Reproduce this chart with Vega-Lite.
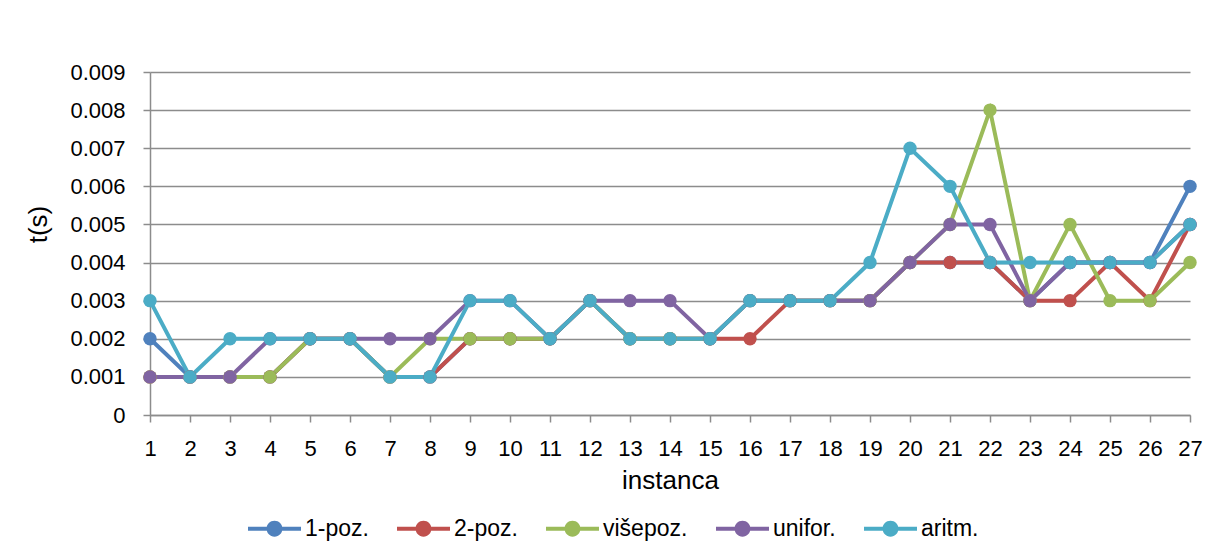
{
  "$schema": "https://vega.github.io/schema/vega-lite/v6.json",
  "width": 1040,
  "height": 343,
  "autosize": {"type": "none"},
  "padding": {"left": 150, "top": 72, "right": 28, "bottom": 133},
  "background": "white",
  "datasets": {
    "rows": [
      {"instanca": 1, "serija": "1-poz.", "t": 0.002},
      {"instanca": 2, "serija": "1-poz.", "t": 0.001},
      {"instanca": 3, "serija": "1-poz.", "t": 0.001},
      {"instanca": 4, "serija": "1-poz.", "t": 0.001},
      {"instanca": 5, "serija": "1-poz.", "t": 0.002},
      {"instanca": 6, "serija": "1-poz.", "t": 0.002},
      {"instanca": 7, "serija": "1-poz.", "t": 0.001},
      {"instanca": 8, "serija": "1-poz.", "t": 0.001},
      {"instanca": 9, "serija": "1-poz.", "t": 0.002},
      {"instanca": 10, "serija": "1-poz.", "t": 0.002},
      {"instanca": 11, "serija": "1-poz.", "t": 0.002},
      {"instanca": 12, "serija": "1-poz.", "t": 0.003},
      {"instanca": 13, "serija": "1-poz.", "t": 0.002},
      {"instanca": 14, "serija": "1-poz.", "t": 0.002},
      {"instanca": 15, "serija": "1-poz.", "t": 0.002},
      {"instanca": 16, "serija": "1-poz.", "t": 0.003},
      {"instanca": 17, "serija": "1-poz.", "t": 0.003},
      {"instanca": 18, "serija": "1-poz.", "t": 0.003},
      {"instanca": 19, "serija": "1-poz.", "t": 0.003},
      {"instanca": 20, "serija": "1-poz.", "t": 0.004},
      {"instanca": 21, "serija": "1-poz.", "t": 0.004},
      {"instanca": 22, "serija": "1-poz.", "t": 0.004},
      {"instanca": 23, "serija": "1-poz.", "t": 0.003},
      {"instanca": 24, "serija": "1-poz.", "t": 0.004},
      {"instanca": 25, "serija": "1-poz.", "t": 0.004},
      {"instanca": 26, "serija": "1-poz.", "t": 0.004},
      {"instanca": 27, "serija": "1-poz.", "t": 0.006},

      {"instanca": 1, "serija": "2-poz.", "t": 0.001},
      {"instanca": 2, "serija": "2-poz.", "t": 0.001},
      {"instanca": 3, "serija": "2-poz.", "t": 0.001},
      {"instanca": 4, "serija": "2-poz.", "t": 0.001},
      {"instanca": 5, "serija": "2-poz.", "t": 0.002},
      {"instanca": 6, "serija": "2-poz.", "t": 0.002},
      {"instanca": 7, "serija": "2-poz.", "t": 0.001},
      {"instanca": 8, "serija": "2-poz.", "t": 0.001},
      {"instanca": 9, "serija": "2-poz.", "t": 0.002},
      {"instanca": 10, "serija": "2-poz.", "t": 0.002},
      {"instanca": 11, "serija": "2-poz.", "t": 0.002},
      {"instanca": 12, "serija": "2-poz.", "t": 0.003},
      {"instanca": 13, "serija": "2-poz.", "t": 0.002},
      {"instanca": 14, "serija": "2-poz.", "t": 0.002},
      {"instanca": 15, "serija": "2-poz.", "t": 0.002},
      {"instanca": 16, "serija": "2-poz.", "t": 0.002},
      {"instanca": 17, "serija": "2-poz.", "t": 0.003},
      {"instanca": 18, "serija": "2-poz.", "t": 0.003},
      {"instanca": 19, "serija": "2-poz.", "t": 0.003},
      {"instanca": 20, "serija": "2-poz.", "t": 0.004},
      {"instanca": 21, "serija": "2-poz.", "t": 0.004},
      {"instanca": 22, "serija": "2-poz.", "t": 0.004},
      {"instanca": 23, "serija": "2-poz.", "t": 0.003},
      {"instanca": 24, "serija": "2-poz.", "t": 0.003},
      {"instanca": 25, "serija": "2-poz.", "t": 0.004},
      {"instanca": 26, "serija": "2-poz.", "t": 0.003},
      {"instanca": 27, "serija": "2-poz.", "t": 0.005},

      {"instanca": 1, "serija": "višepoz.", "t": 0.001},
      {"instanca": 2, "serija": "višepoz.", "t": 0.001},
      {"instanca": 3, "serija": "višepoz.", "t": 0.001},
      {"instanca": 4, "serija": "višepoz.", "t": 0.001},
      {"instanca": 5, "serija": "višepoz.", "t": 0.002},
      {"instanca": 6, "serija": "višepoz.", "t": 0.002},
      {"instanca": 7, "serija": "višepoz.", "t": 0.001},
      {"instanca": 8, "serija": "višepoz.", "t": 0.002},
      {"instanca": 9, "serija": "višepoz.", "t": 0.002},
      {"instanca": 10, "serija": "višepoz.", "t": 0.002},
      {"instanca": 11, "serija": "višepoz.", "t": 0.002},
      {"instanca": 12, "serija": "višepoz.", "t": 0.003},
      {"instanca": 13, "serija": "višepoz.", "t": 0.002},
      {"instanca": 14, "serija": "višepoz.", "t": 0.002},
      {"instanca": 15, "serija": "višepoz.", "t": 0.002},
      {"instanca": 16, "serija": "višepoz.", "t": 0.003},
      {"instanca": 17, "serija": "višepoz.", "t": 0.003},
      {"instanca": 18, "serija": "višepoz.", "t": 0.003},
      {"instanca": 19, "serija": "višepoz.", "t": 0.003},
      {"instanca": 20, "serija": "višepoz.", "t": 0.004},
      {"instanca": 21, "serija": "višepoz.", "t": 0.005},
      {"instanca": 22, "serija": "višepoz.", "t": 0.008},
      {"instanca": 23, "serija": "višepoz.", "t": 0.003},
      {"instanca": 24, "serija": "višepoz.", "t": 0.005},
      {"instanca": 25, "serija": "višepoz.", "t": 0.003},
      {"instanca": 26, "serija": "višepoz.", "t": 0.003},
      {"instanca": 27, "serija": "višepoz.", "t": 0.004},

      {"instanca": 1, "serija": "unifor.", "t": 0.001},
      {"instanca": 2, "serija": "unifor.", "t": 0.001},
      {"instanca": 3, "serija": "unifor.", "t": 0.001},
      {"instanca": 4, "serija": "unifor.", "t": 0.002},
      {"instanca": 5, "serija": "unifor.", "t": 0.002},
      {"instanca": 6, "serija": "unifor.", "t": 0.002},
      {"instanca": 7, "serija": "unifor.", "t": 0.002},
      {"instanca": 8, "serija": "unifor.", "t": 0.002},
      {"instanca": 9, "serija": "unifor.", "t": 0.003},
      {"instanca": 10, "serija": "unifor.", "t": 0.003},
      {"instanca": 11, "serija": "unifor.", "t": 0.002},
      {"instanca": 12, "serija": "unifor.", "t": 0.003},
      {"instanca": 13, "serija": "unifor.", "t": 0.003},
      {"instanca": 14, "serija": "unifor.", "t": 0.003},
      {"instanca": 15, "serija": "unifor.", "t": 0.002},
      {"instanca": 16, "serija": "unifor.", "t": 0.003},
      {"instanca": 17, "serija": "unifor.", "t": 0.003},
      {"instanca": 18, "serija": "unifor.", "t": 0.003},
      {"instanca": 19, "serija": "unifor.", "t": 0.003},
      {"instanca": 20, "serija": "unifor.", "t": 0.004},
      {"instanca": 21, "serija": "unifor.", "t": 0.005},
      {"instanca": 22, "serija": "unifor.", "t": 0.005},
      {"instanca": 23, "serija": "unifor.", "t": 0.003},
      {"instanca": 24, "serija": "unifor.", "t": 0.004},
      {"instanca": 25, "serija": "unifor.", "t": 0.004},
      {"instanca": 26, "serija": "unifor.", "t": 0.004},
      {"instanca": 27, "serija": "unifor.", "t": 0.005},

      {"instanca": 1, "serija": "aritm.", "t": 0.003},
      {"instanca": 2, "serija": "aritm.", "t": 0.001},
      {"instanca": 3, "serija": "aritm.", "t": 0.002},
      {"instanca": 4, "serija": "aritm.", "t": 0.002},
      {"instanca": 5, "serija": "aritm.", "t": 0.002},
      {"instanca": 6, "serija": "aritm.", "t": 0.002},
      {"instanca": 7, "serija": "aritm.", "t": 0.001},
      {"instanca": 8, "serija": "aritm.", "t": 0.001},
      {"instanca": 9, "serija": "aritm.", "t": 0.003},
      {"instanca": 10, "serija": "aritm.", "t": 0.003},
      {"instanca": 11, "serija": "aritm.", "t": 0.002},
      {"instanca": 12, "serija": "aritm.", "t": 0.003},
      {"instanca": 13, "serija": "aritm.", "t": 0.002},
      {"instanca": 14, "serija": "aritm.", "t": 0.002},
      {"instanca": 15, "serija": "aritm.", "t": 0.002},
      {"instanca": 16, "serija": "aritm.", "t": 0.003},
      {"instanca": 17, "serija": "aritm.", "t": 0.003},
      {"instanca": 18, "serija": "aritm.", "t": 0.003},
      {"instanca": 19, "serija": "aritm.", "t": 0.004},
      {"instanca": 20, "serija": "aritm.", "t": 0.007},
      {"instanca": 21, "serija": "aritm.", "t": 0.006},
      {"instanca": 22, "serija": "aritm.", "t": 0.004},
      {"instanca": 23, "serija": "aritm.", "t": 0.004},
      {"instanca": 24, "serija": "aritm.", "t": 0.004},
      {"instanca": 25, "serija": "aritm.", "t": 0.004},
      {"instanca": 26, "serija": "aritm.", "t": 0.004},
      {"instanca": 27, "serija": "aritm.", "t": 0.005}
    ]
  },
  "data": {"name": "rows"},
  "mark": {"type": "line", "strokeWidth": 4, "point": {"filled": true, "size": 180, "opacity": 1}},
  "encoding": {
    "x": {
      "field": "instanca",
      "type": "quantitative",
      "scale": {"domain": [1, 27], "nice": false, "zero": false},
      "axis": {
        "title": "instanca",
        "values": [1,2,3,4,5,6,7,8,9,10,11,12,13,14,15,16,17,18,19,20,21,22,23,24,25,26,27],
        "grid": false,
        "format": "d",
        "labelFontSize": 22,
        "labelPadding": 16,
        "tickSize": 7,
        "titleFontSize": 26,
        "titlePadding": 8,
        "labelFlush": false
      }
    },
    "y": {
      "field": "t",
      "type": "quantitative",
      "scale": {"domain": [0, 0.009], "nice": false},
      "axis": {
        "title": "t(s)",
        "values": [0, 0.001, 0.002, 0.003, 0.004, 0.005, 0.006, 0.007, 0.008, 0.009],
        "format": ".3~f",
        "labelFontSize": 22,
        "labelPadding": 18,
        "tickSize": 7,
        "titleFontSize": 26,
        "titlePadding": 18,
        "titleY": 152
      }
    },
    "color": {
      "field": "serija",
      "type": "nominal",
      "scale": {
        "domain": ["1-poz.", "2-poz.", "višepoz.", "unifor.", "aritm."],
        "range": ["#4F81BD", "#C0504D", "#9BBB59", "#8064A2", "#4BACC6"]
      },
      "legend": {
        "title": null,
        "orient": "none",
        "legendX": 98,
        "legendY": 430,
        "direction": "horizontal",
        "labelFontSize": 23,
        "labelOffset": 4,
        "columnPadding": 28,
        "symbolType": "M-1,-0.075 L1,-0.075 L1,0.075 L-1,0.075 Z M0.3,0 A0.3,0.3 0 1,1 -0.3,0 A0.3,0.3 0 1,1 0.3,0 Z",
        "symbolSize": 2809,
        "symbolStrokeWidth": 0,
        "encode": {
          "symbols": {
            "update": {
              "fill": {"scale": "color", "field": "value"},
              "fillOpacity": {"value": 1},
              "strokeWidth": {"value": 0}
            }
          }
        }
      }
    },
    "order": {"field": "instanca", "type": "quantitative"}
  },
  "config": {
    "font": "Liberation Sans",
    "view": {"stroke": null},
    "axis": {
      "domainColor": "#8C8C8C",
      "domainWidth": 1.5,
      "tickColor": "#8C8C8C",
      "tickWidth": 1.5,
      "gridColor": "#8C8C8C",
      "gridWidth": 1.5,
      "gridOpacity": 1,
      "labelColor": "#000000",
      "titleColor": "#000000",
      "titleFontWeight": "normal",
      "labelFont": "Liberation Sans",
      "titleFont": "Liberation Sans"
    },
    "legend": {"labelColor": "#000000", "labelFont": "Liberation Sans"}
  }
}
